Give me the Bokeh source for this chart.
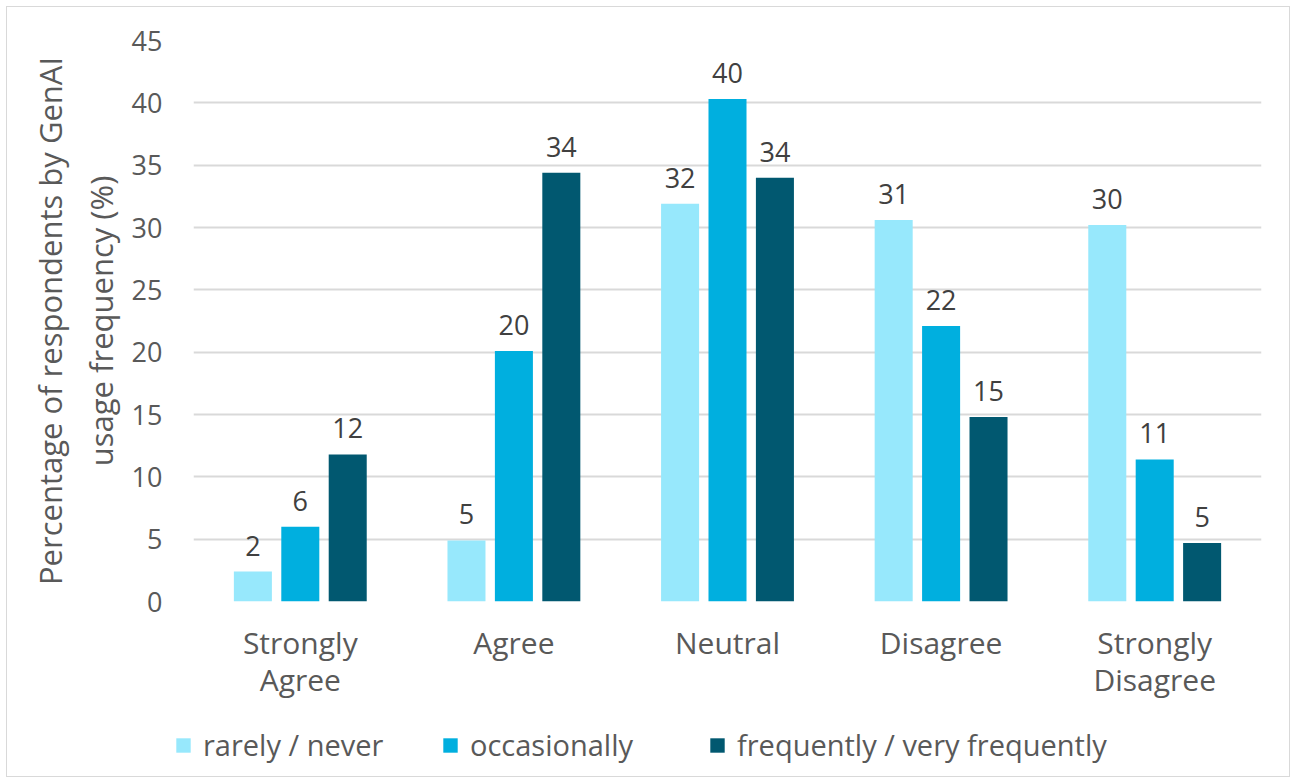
from bokeh.plotting import figure
from bokeh.layouts import column
from bokeh.models import (FactorRange, Range1d, FixedTicker, Legend, LegendItem,
                          ColumnDataSource, CategoricalAxis, CustomJSTickFormatter)
from bokeh.transform import dodge
from bokeh.embed import file_html
from bokeh.resources import INLINE

# Agreement categories; long names wrap onto a second line under the axis
categories = ["Strongly Agree", "Agree", "Neutral", "Disagree", "Strongly Disagree"]
label_line1 = ["Strongly", "Agree", "Neutral", "Disagree", "Strongly"]
label_line2 = ["Agree", "", "", "", "Disagree"]

# Percentage of respondents by GenAI usage frequency
rarely_never = [2.4, 4.9, 31.9, 30.6, 30.2]
occasionally = [6.0, 20.1, 40.3, 22.1, 11.4]
frequently = [11.8, 34.4, 34.0, 14.8, 4.7]

series_names = ["rarely / never", "occasionally", "frequently / very frequently"]
colors = ["#97E8FC", "#00AFDF", "#015870"]
y_ticks = [0, 5, 10, 15, 20, 25, 30, 35, 40, 45]

FONT = "Open Sans"
WIDTH = 1282

p = figure(
    x_range=FactorRange(*categories, range_padding=0),
    y_range=Range1d(0, 45),
    frame_width=1068, frame_height=561,
    min_border_left=186, min_border_top=33, min_border_right=28, min_border_bottom=106,
    output_backend="svg", toolbar_location=None,
    background_fill_color="white", border_fill_color="white",
)
p.outline_line_color = None

# second line of the category labels
p.add_layout(CategoricalAxis(), "below")

for ax in p.xaxis + p.yaxis:
    ax.axis_line_color = None
    ax.major_tick_line_color = None
    ax.minor_tick_line_color = None
    ax.major_tick_out = 0
    ax.major_tick_in = 0
    ax.major_label_text_font = FONT
    ax.major_label_text_color = "#595959"
    ax.major_label_text_font_size = "30px"

p.yaxis.ticker = FixedTicker(ticks=y_ticks)
p.yaxis.major_label_text_font_size = "27px"
p.yaxis.major_label_standoff = 31
p.yaxis.axis_label = "Percentage of respondents by GenAI\nusage frequency (%)"
p.yaxis.axis_label_text_font = FONT
p.yaxis.axis_label_text_font_style = "normal"
p.yaxis.axis_label_text_font_size = "31px"
p.yaxis.axis_label_text_color = "#595959"
p.yaxis.axis_label_standoff = 7

line_code = "return lines[cats.indexOf(tick)];"
xa1, xa2 = p.xaxis[0], p.xaxis[1]
xa1.formatter = CustomJSTickFormatter(args=dict(cats=categories, lines=label_line1), code=line_code)
xa1.major_label_standoff = 20
xa2.formatter = CustomJSTickFormatter(args=dict(cats=categories, lines=label_line2), code=line_code)
xa2.major_label_standoff = -7

p.xgrid.grid_line_color = None
p.ygrid.grid_line_color = "#D9D9D9"
p.ygrid.grid_line_width = 2

# bars and value labels
offsets = [-0.222, 0.0, 0.222]
src = ColumnDataSource(dict(
    cat=categories,
    r=rarely_never, o=occasionally, f=frequently,
    r_lbl=[f"{v:.0f}" for v in rarely_never],
    o_lbl=[f"{v:.0f}" for v in occasionally],
    f_lbl=[f"{v:.0f}" for v in frequently],
))
for col, off, color in zip(["r", "o", "f"], offsets, colors):
    p.vbar(x=dodge("cat", off, range=p.x_range), top=col, width=0.178,
           source=src, fill_color=color, line_color=None)
    p.text(x=dodge("cat", off, range=p.x_range), y=col, text=col + "_lbl",
           source=src, text_align="center", text_baseline="bottom", y_offset=-16,
           text_font=dict(value=FONT), text_font_size="27px", text_color="#404040")

# legend strip under the chart
LEG_H = 69
lf = figure(width=WIDTH, height=LEG_H, x_range=Range1d(0, 1), y_range=Range1d(0, 1),
            min_border=0, x_axis_location=None, y_axis_location=None,
            output_backend="svg", toolbar_location=None,
            background_fill_color="white", border_fill_color="white")
lf.outline_line_color = None
lf.grid.grid_line_color = None
for fig in (p, lf):
    if hasattr(fig, "frame_align"):
        fig.frame_align = False

# zero-height swatch bars that only carry each series' fill for the legend
swatches = [lf.vbar(x=[0.5], top=[0], width=0.01, fill_color=c, line_color=None)
            for c in colors]

legend = Legend(
    items=[LegendItem(label=n, renderers=[r]) for n, r in zip(series_names, swatches)],
    location=(167, 12), orientation="horizontal",
    border_line_color=None, background_fill_alpha=0,
    padding=0, margin=0, spacing=38, label_width=200,
    glyph_width=18, glyph_height=18, label_standoff=11,
    label_text_font=FONT, label_text_font_size="29px", label_text_color="#595959",
)
lf.add_layout(legend)

layout = column(p, lf, spacing=0,
                styles={"margin": "6px 0 0 6px", "border": "1px solid #D9D9D9"})

open("out.html", "w").write(file_html(layout, INLINE))
